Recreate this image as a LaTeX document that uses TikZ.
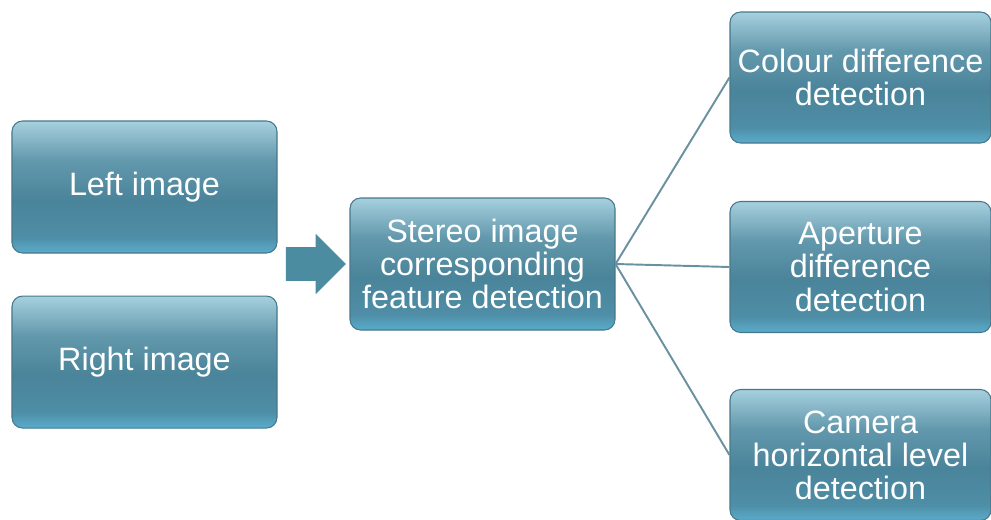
\documentclass[tikz,border=0pt]{standalone}
\usepackage{fontspec}
\setmainfont{Liberation Sans}
\usetikzlibrary{shapes.arrows, positioning}
\definecolor{cTop}{RGB}{166,208,222}
\definecolor{cUp}{RGB}{98,152,172}
\definecolor{cMid}{RGB}{74,132,154}
\definecolor{cLow}{RGB}{78,142,166}
\definecolor{cBot}{RGB}{90,172,204}
\definecolor{cArrow}{RGB}{76,140,160}
\definecolor{cEdge}{RGB}{70,120,140}
\definecolor{cLine}{RGB}{105,145,160}
\pgfdeclareverticalshading{boxshade}{100bp}{color(0bp)=(cBot); color(25bp)=(cBot); color(31bp)=(cLow); color(45bp)=(cMid); color(60bp)=(cUp); color(75bp)=(cTop); color(100bp)=(cTop)}
\tikzset{
	box/.style   ={rectangle, rounded corners=6pt, draw=cEdge, line width=0.6pt, shading=boxshade, text=white, align=center, minimum width=5.3cm, minimum height=2.64cm, font=\fontsize{18.4}{18.8}\selectfont},
	bigarrow/.style={single arrow, draw=none, fill=cArrow, minimum height=1.2cm, inner xsep=0pt, inner ysep=0.33cm, single arrow head extend=0.27cm},
	branch/.style={draw=cLine, line width=1.1pt},
}
\begin{document}
\begin{tikzpicture}
	\useasboundingbox (0,0) rectangle (19.82,10.38);
	\node[box] (left) at (2.89,6.64) {Left image};
	\node[box, below=0.84cm of left] (right) {Right image};
	\node[box] (stereo) at (9.65,5.1) {Stereo image\\ corresponding\\ feature detection};
	\node[box, minimum width=5.22cm, minimum height=2.62cm] (colour) at (17.21,8.83) {Colour difference\\ detection};
	\node[box, minimum width=5.22cm, minimum height=2.62cm] (aper) at (17.21,5.04) {Aperture\\ difference\\ detection};
	\node[box, minimum width=5.22cm, minimum height=2.62cm] (camera) at (17.21,1.28) {Camera\\ horizontal level\\ detection};
	\node[bigarrow, left=0.06cm of stereo] (arr) {};
	\draw[branch] (stereo.east) -- (colour.west);
	\draw[branch] (stereo.east) -- (aper.west);
	\draw[branch] (stereo.east) -- (camera.west);
\end{tikzpicture}
\end{document}
